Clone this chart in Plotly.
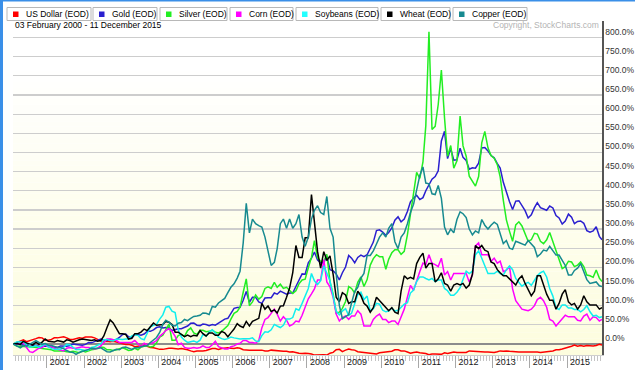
import plotly.graph_objects as go
import pandas as pd

# ---------------- data (percent change since 03 Feb 2000) ----------------
series_names = ["US Dollar (EOD)", "Gold (EOD)", "Silver (EOD)", "Corn (EOD)",
                "Soybeans (EOD)", "Wheat (EOD)", "Copper (EOD)"]
series_colors = ["#ff0000", "#2a1fcf", "#22ee22", "#ff00ff",
                 "#11eeee", "#000000", "#178a90"]

month_mid = pd.date_range("2000-03-01", "2015-11-01", freq="MS") + pd.Timedelta(days=14)
dates = ["2000-02-03"] + [d.strftime("%Y-%m-%d") for d in month_mid] + ["2015-12-11"]

us_dollar = [
    0, 5, 8, 11, 6, 8, 11, 14, 17, 16, 10,
    10, 12, 16, 16, 18, 19, 16, 12, 12, 15, 16, 15,
    18, 18, 18, 16, 12, 8, 6, 7, 6, 7, 5, 3,
    0, -1, -1, -3, -7, -6, -5, -3, -6, -9, -10, -13,
    -14, -14, -12, -11, -11, -12, -13, -12, -13, -15, -18, -20,
    -18, -19, -18, -17, -14, -12, -12, -14, -12, -11, -10, -11,
    -12, -10, -11, -15, -16, -16, -16, -16, -15, -16, -18, -18,
    -16, -17, -18, -19, -19, -19, -21, -20, -23, -24, -25, -24,
    -25, -26, -29, -28, -28, -28, -29, -24, -22, -15, -14, -20,
    -16, -13, -15, -16, -20, -21, -22, -23, -24, -25, -26, -23,
    -22, -20, -20, -19, -15, -15, -18, -18, -21, -24, -22, -21,
    -23, -24, -25, -28, -26, -26, -27, -27, -23, -25, -23, -21,
    -22, -22, -22, -22, -18, -19, -18, -19, -21, -21, -21, -21,
    -22, -20, -18, -19, -18, -19, -19, -20, -21, -21, -20, -21,
    -20, -21, -21, -22, -21, -21, -20, -18, -15, -15, -13, -11,
    -7, -6, -3, -6, -4, -6, -4, -5, -5, -4, -1, -3,
]
gold = [
    0, 0, -2, -3, 0, -1, -3, -4, -5, -7, -5,
    -7, -8, -8, -9, -5, -5, -6, -4, 0, -1, -3, -3,
    -1, 4, 3, 6, 10, 13, 10, 9, 12, 11, 12, 17,
    25, 26, 19, 15, 25, 25, 23, 26, 33, 33, 37, 43,
    45, 42, 43, 42, 35, 38, 40, 40, 43, 47, 54, 55,
    49, 48, 52, 51, 48, 51, 49, 54, 60, 65, 67, 79,
    93, 95, 96, 114, 137, 109, 122, 122, 110, 106, 120, 121,
    121, 133, 130, 138, 134, 130, 133, 133, 150, 165, 183, 182,
    212, 224, 240, 219, 212, 212, 230, 194, 191, 183, 167, 186,
    201, 231, 224, 212, 226, 232, 228, 233, 250, 266, 296, 298,
    292, 284, 291, 303, 323, 332, 319, 326, 346, 371, 381, 388,
    377, 382, 400, 417, 430, 437, 452, 530, 555, 484, 510, 480,
    481, 511, 487, 479, 456, 460, 459, 472, 512, 513, 504, 492,
    486, 471, 459, 422, 396, 371, 351, 373, 374, 362, 348, 329,
    337, 356, 369, 356, 352, 349, 360, 355, 335, 329, 313, 321,
    339, 331, 314, 320, 321, 315, 296, 292, 295, 306, 281, 272,
]
silver = [
    0, -6, -6, -7, -7, -7, -8, -8, -10, -12, -13,
    -13, -15, -18, -18, -17, -18, -20, -21, -19, -20, -23, -18,
    -21, -18, -15, -14, -12, -8, -9, -15, -15, -17, -15, -13,
    -10, -13, -17, -16, -11, -15, -8, -6, -4, -8, -6, 3,
    18, 23, 37, 52, 10, 10, 22, 25, 20, 35, 42, 29,
    25, 36, 36, 32, 33, 36, 31, 29, 33, 41, 48, 65,
    80, 85, 96, 135, 170, 100, 110, 128, 117, 124, 145, 149,
    145, 161, 148, 156, 145, 148, 141, 132, 139, 157, 167, 169,
    199, 226, 270, 225, 216, 216, 234, 162, 130, 81, 83, 93,
    111, 150, 145, 133, 161, 175, 150, 168, 206, 223, 233, 228,
    228, 195, 221, 238, 246, 246, 234, 242, 285, 335, 395, 448,
    432, 475, 570, 815, 560, 568, 625, 715, 590, 490, 518, 459,
    478, 595, 517, 490, 438, 424, 412, 437, 525, 555, 512, 492,
    485, 468, 436, 375, 324, 294, 268, 311, 319, 308, 289, 268,
    272, 289, 287, 268, 262, 272, 291, 268, 244, 221, 197, 202,
    216, 214, 202, 206, 214, 202, 180, 178, 174, 193, 172, 163,
]
corn = [
    0, 2, 2, 2, -11, -20, -22, -16, -11, -9, -2,
    -7, -7, -11, -13, -16, -18, -11, -9, -11, -11, -9, -7,
    -9, -9, -11, -13, -11, -5, 4, 13, 13, 11, 9, 4,
    4, 4, 4, 4, 9, 2, -7, 2, -2, 2, 4, 9,
    20, 27, 35, 40, 33, 20, -2, 2, -9, -11, -11, -9,
    -11, -9, -5, -9, -9, -2, 7, -7, -11, -13, -13, -7,
    -5, 0, 2, 9, 9, 4, 4, 2, 9, 42, 64, 69,
    80, 91, 78, 60, 71, 62, 47, 51, 60, 58, 75, 96,
    118, 131, 144, 167, 167, 220, 162, 149, 122, 78, 60, 69,
    73, 64, 73, 73, 87, 78, 47, 47, 47, 64, 73, 78,
    64, 64, 56, 60, 60, 51, 69, 91, 122, 153, 140, 167,
    189, 211, 207, 233, 211, 207, 202, 224, 180, 189, 167, 184,
    184, 184, 184, 184, 162, 180, 256, 264, 233, 233, 233, 216,
    224, 211, 216, 189, 193, 202, 144, 113, 100, 91, 89, 87,
    91, 100, 116, 122, 113, 96, 64, 60, 47, 56, 67, 75,
    71, 71, 71, 62, 60, 73, 78, 62, 71, 69, 60, 64,
]
soybeans = [
    0, 6, 5, 6, -2, -8, -7, -4, -9, -4, 0,
    -7, -12, -14, -15, -14, -9, -1, -2, -10, -15, -14, -16,
    -17, -15, -9, -7, -2, 1, 11, 12, 9, 8, 13, 12,
    12, 13, 13, 21, 24, 23, 14, 11, 29, 45, 49, 51,
    65, 76, 96, 98, 86, 82, 37, 18, 10, 4, 6, 8,
    4, 10, 25, 20, 31, 37, 29, 18, 14, 12, 14, 18,
    16, 15, 13, 14, 14, 14, 16, 8, 6, 22, 32, 31,
    37, 51, 47, 43, 49, 65, 65, 69, 92, 88, 106, 125,
    145, 184, 165, 155, 165, 204, 184, 165, 125, 86, 76, 86,
    92, 75, 80, 106, 129, 135, 116, 125, 86, 92, 106, 104,
    88, 84, 86, 94, 86, 88, 96, 104, 108, 133, 141, 163,
    175, 175, 171, 167, 171, 163, 167, 167, 145, 139, 127, 127,
    135, 147, 169, 190, 184, 190, 233, 243, 224, 204, 184, 184,
    184, 190, 184, 180, 194, 204, 194, 171, 161, 151, 157, 161,
    153, 165, 178, 186, 190, 175, 145, 125, 94, 90, 102, 102,
    94, 94, 90, 90, 84, 90, 100, 84, 73, 75, 69, 71,
]
wheat = [
    0, 1, -1, 7, 3, 1, -3, 5, -1, 5, 13,
    7, 5, 5, 9, 7, 5, 11, 9, 5, 9, 11, 13,
    11, 9, 9, 11, 7, 9, 21, 43, 63, 55, 39, 27,
    27, 25, 13, 15, 27, 27, 31, 39, 35, 45, 55, 49,
    51, 51, 59, 57, 51, 31, 31, 25, 19, 23, 19, 23,
    21, 35, 27, 21, 29, 29, 23, 23, 33, 29, 19, 29,
    39, 53, 47, 43, 59, 47, 59, 63, 67, 106, 91, 99,
    85, 89, 81, 99, 100, 122, 146, 186, 257, 226, 226, 277,
    277, 390, 317, 241, 198, 241, 218, 230, 182, 122, 110, 134,
    128, 106, 110, 110, 138, 126, 106, 99, 83, 95, 122, 114,
    106, 95, 87, 95, 83, 79, 138, 178, 170, 174, 170, 210,
    226, 237, 198, 210, 210, 162, 170, 186, 158, 154, 138, 154,
    158, 154, 158, 146, 154, 182, 257, 249, 257, 245, 241, 214,
    210, 194, 186, 178, 178, 170, 162, 154, 170, 178, 158, 142,
    126, 138, 178, 178, 154, 130, 114, 114, 91, 106, 130, 142,
    110, 102, 106, 91, 102, 126, 110, 102, 102, 102, 91, 95,
]
copper = [
    0, -5, -10, -4, -5, -1, 4, 9, 4, -1, 1,
    -3, -4, -7, -9, -9, -12, -17, -21, -22, -27, -22, -20,
    -17, -14, -11, -12, -12, -10, -16, -20, -21, -18, -14, -15,
    -9, -8, -11, -14, -10, -10, -7, -5, -4, 4, 11, 17,
    30, 51, 62, 57, 49, 47, 54, 56, 64, 61, 67, 72,
    73, 75, 81, 80, 77, 98, 96, 107, 113, 119, 134, 148,
    157, 172, 190, 264, 367, 290, 326, 314, 309, 305, 279, 243,
    205, 213, 249, 314, 326, 302, 326, 302, 314, 338, 279, 255,
    279, 326, 349, 361, 343, 338, 385, 302, 279, 183, 101, 66,
    72, 77, 107, 137, 148, 172, 184, 231, 231, 243, 261, 279,
    290, 279, 302, 314, 267, 249, 279, 290, 314, 343, 365, 405,
    440, 462, 420, 418, 392, 390, 414, 380, 305, 285, 300, 290,
    325, 345, 340, 330, 300, 285, 295, 290, 325, 310, 300, 310,
    318, 312, 290, 262, 270, 250, 247, 268, 265, 262, 258, 270,
    262, 252, 228, 235, 245, 243, 255, 245, 232, 232, 220, 205,
    180, 180, 192, 198, 210, 188, 168, 158, 160, 162, 152, 150,
]
series_values = [us_dollar, gold, silver, corn, soybeans, wheat, copper]

year_labels = list(range(2001, 2016))
y_tick_values = list(range(0, 801, 50))
y_tick_labels = [f"{v}.0%" for v in y_tick_values]
date_caption = "03 February 2000 - 11 December 2015"
copyright_text = "Copyright, StockCharts.com"

# ---------------- layout geometry ----------------
W, H = 635, 370
ML, MR, MT, MB = 13, 33, 21, 15
PW, PH = W - ML - MR, H - MT - MB
X_RANGE = ["2000-02-03", "2015-12-11"]


def px(x):
    return (x - ML) / PW


def py(y):
    return (H - MB - y) / PH


FONT = "Liberation Sans, Arial, sans-serif"

fig = go.Figure()
for name, color, vals in zip(series_names, series_colors, series_values):
    assert len(vals) == len(dates), (name, len(vals))
    fig.add_trace(go.Scatter(x=dates, y=vals, mode="lines", name=name,
                             line=dict(color=color, width=1.5),
                             showlegend=False, hoverinfo="skip"))
# carrier trace for the label-only overlay axis
fig.add_trace(go.Scatter(x=X_RANGE, y=[None, None], xaxis="x2", mode="lines",
                         showlegend=False, hoverinfo="skip"))

shapes = []
# background gradient (white at top -> pale yellow at bottom)
n_bands = 60
for i in range(n_bands):
    t = i / (n_bands - 1)          # 0 bottom, 1 top
    b = int(round(222 + (255 - 222) * min(1.0, t * 1.15)))
    r = int(round(253 + 2 * t))
    g = int(round(253 + 2 * t))
    shapes.append(dict(type="rect", xref="paper", yref="paper",
                       x0=0, x1=1, y0=i / n_bands, y1=(i + 1) / n_bands,
                       fillcolor=f"rgb({r},{g},{b})", line=dict(width=0),
                       layer="below"))

# page frame (blue strips)
shapes.append(dict(type="rect", xref="paper", yref="paper", x0=px(0), x1=px(3),
                   y0=py(H), y1=py(0), fillcolor="#3a8fe8", line=dict(width=0)))
shapes.append(dict(type="rect", xref="paper", yref="paper", x0=px(0), x1=px(W),
                   y0=py(1.5), y1=py(0), fillcolor="#3a8fe8", line=dict(width=0)))

# custom legend (button-like boxes)
legend_left = [7, 93, 160, 230, 296, 381, 453]
legend_right = [91, 157, 227, 293, 378, 450, 527]
annotations = []
for name, color, l, r in zip(series_names, series_colors, legend_left, legend_right):
    shapes.append(dict(type="rect", xref="paper", yref="paper",
                       x0=px(l), x1=px(r), y0=py(20.5), y1=py(7.5),
                       fillcolor="#ffffff", line=dict(color="#b8b8b8", width=1)))
    sq = color if color != "#11eeee" else "#22ffff"
    shapes.append(dict(type="rect", xref="paper", yref="paper",
                       x0=px(l + 6), x1=px(l + 11.5), y0=py(17), y1=py(11.5),
                       fillcolor=sq, line=dict(width=0)))
    annotations.append(dict(text=name, xref="paper", yref="paper",
                            x=px(l + 16.5), y=py(14.3), xanchor="left", yanchor="middle",
                            showarrow=False, font=dict(family=FONT, size=8.5, color="#000")))

annotations.append(dict(text=date_caption, xref="paper", yref="paper",
                        x=px(13), y=py(25.5), xanchor="left", yanchor="middle",
                        showarrow=False, font=dict(family=FONT, size=8.5, color="#000")))
annotations.append(dict(text=copyright_text, xref="paper", yref="paper",
                        x=px(601), y=py(25.5), xanchor="right", yanchor="middle",
                        showarrow=False, font=dict(family=FONT, size=8.5, color="#b4b4b4")))

fig.update_layout(
    template="none",
    width=W, height=H,
    margin=dict(l=ML, r=MR, t=MT, b=MB, pad=0),
    paper_bgcolor="#ffffff", plot_bgcolor="#ffffff",
    shapes=shapes, annotations=annotations,
    showlegend=False,
    xaxis=dict(
        type="date", range=X_RANGE, automargin=False,
        tick0="2000-01-01", dtick="M12", showticklabels=False,
        ticks="outside", ticklen=12, tickcolor="#a8a8a8", tickwidth=1,
        minor=dict(dtick="M1", tick0="2000-01-01", ticks="outside", ticklen=5,
                   tickcolor="#c4c4c4", tickwidth=1, showgrid=False),
        showgrid=False, zeroline=False,
        showline=True, linecolor="#cfcfcf", linewidth=1,
        fixedrange=True,
    ),
    xaxis2=dict(
        type="date", range=X_RANGE, overlaying="x", anchor="y", side="bottom",
        automargin=False,
        tickmode="array",
        tickvals=[f"{y}-05-08" for y in year_labels],
        ticktext=[str(y) for y in year_labels],
        ticks="", showgrid=False, zeroline=False, showline=False,
        tickfont=dict(family=FONT, size=9, color="#1a1a1a"),
        fixedrange=True,
    ),
    yaxis=dict(
        side="right", range=[-28.7, 843], automargin=False,
        tickmode="array", tickvals=y_tick_values, ticktext=y_tick_labels,
        ticks="", ticklabelposition="outside top",
        showgrid=True, gridcolor="#cdcdcd", gridwidth=1.2,
        zeroline=True, zerolinecolor="#8c8c8c", zerolinewidth=2.5,
        showline=True, linecolor="#555555", linewidth=1.5,
        tickfont=dict(family=FONT, size=8.5, color="#333"),
        fixedrange=True,
    ),
)

fig.write_html(
    "out.html",
    config={"displayModeBar": False, "staticPlot": True},
    post_script="document.body.style.margin='0px';document.body.style.padding='0px';"
                "document.body.style.overflow='hidden';",
)
